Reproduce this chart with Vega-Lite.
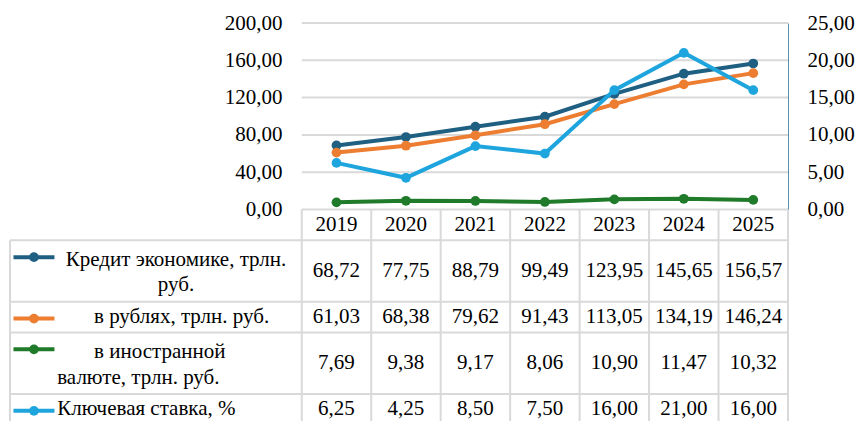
{
  "$schema": "https://vega.github.io/schema/vega-lite/v6.json",
  "autosize": {"type": "none"},
  "width": 778,
  "height": 398,
  "padding": {"left": 10, "top": 23, "right": 73, "bottom": 0},
  "background": "white",
  "config": {
    "locale": {"number": {"decimal": ",", "thousands": "\u00a0", "grouping": [3], "currency": ["", " руб."]}},
    "font": "Times New Roman",
    "view": {"stroke": null},
    "text": {"font": "Times New Roman", "fontSize": 21, "color": "#000000"},
    "axis": {"labelFont": "Times New Roman", "labelFontSize": 21, "labelColor": "#000000", "title": null}
  },
  "datasets": {
    "values": [
      {"series": "Кредит экономике, трлн. руб.", "unit": "трлн. руб.", "year": 2019, "value": 68.72},
      {"series": "Кредит экономике, трлн. руб.", "unit": "трлн. руб.", "year": 2020, "value": 77.75},
      {"series": "Кредит экономике, трлн. руб.", "unit": "трлн. руб.", "year": 2021, "value": 88.79},
      {"series": "Кредит экономике, трлн. руб.", "unit": "трлн. руб.", "year": 2022, "value": 99.49},
      {"series": "Кредит экономике, трлн. руб.", "unit": "трлн. руб.", "year": 2023, "value": 123.95},
      {"series": "Кредит экономике, трлн. руб.", "unit": "трлн. руб.", "year": 2024, "value": 145.65},
      {"series": "Кредит экономике, трлн. руб.", "unit": "трлн. руб.", "year": 2025, "value": 156.57},
      {"series": "в рублях, трлн. руб.", "unit": "трлн. руб.", "year": 2019, "value": 61.03},
      {"series": "в рублях, трлн. руб.", "unit": "трлн. руб.", "year": 2020, "value": 68.38},
      {"series": "в рублях, трлн. руб.", "unit": "трлн. руб.", "year": 2021, "value": 79.62},
      {"series": "в рублях, трлн. руб.", "unit": "трлн. руб.", "year": 2022, "value": 91.43},
      {"series": "в рублях, трлн. руб.", "unit": "трлн. руб.", "year": 2023, "value": 113.05},
      {"series": "в рублях, трлн. руб.", "unit": "трлн. руб.", "year": 2024, "value": 134.19},
      {"series": "в рублях, трлн. руб.", "unit": "трлн. руб.", "year": 2025, "value": 146.24},
      {"series": "в иностранной валюте, трлн. руб.", "unit": "трлн. руб.", "year": 2019, "value": 7.69},
      {"series": "в иностранной валюте, трлн. руб.", "unit": "трлн. руб.", "year": 2020, "value": 9.38},
      {"series": "в иностранной валюте, трлн. руб.", "unit": "трлн. руб.", "year": 2021, "value": 9.17},
      {"series": "в иностранной валюте, трлн. руб.", "unit": "трлн. руб.", "year": 2022, "value": 8.06},
      {"series": "в иностранной валюте, трлн. руб.", "unit": "трлн. руб.", "year": 2023, "value": 10.90},
      {"series": "в иностранной валюте, трлн. руб.", "unit": "трлн. руб.", "year": 2024, "value": 11.47},
      {"series": "в иностранной валюте, трлн. руб.", "unit": "трлн. руб.", "year": 2025, "value": 10.32},
      {"series": "Ключевая ставка, %", "unit": "%", "year": 2019, "value": 6.25},
      {"series": "Ключевая ставка, %", "unit": "%", "year": 2020, "value": 4.25},
      {"series": "Ключевая ставка, %", "unit": "%", "year": 2021, "value": 8.50},
      {"series": "Ключевая ставка, %", "unit": "%", "year": 2022, "value": 7.50},
      {"series": "Ключевая ставка, %", "unit": "%", "year": 2023, "value": 16.00},
      {"series": "Ключевая ставка, %", "unit": "%", "year": 2024, "value": 21.00},
      {"series": "Ключевая ставка, %", "unit": "%", "year": 2025, "value": 16.00}
    ],
    "rows": [
      {"series": "Кредит экономике, трлн. руб.", "label": "Кредит экономике, трлн.\nруб.", "row": "1", "lines": 2},
      {"series": "в рублях, трлн. руб.", "label": "\u200b\u00a0\u00a0\u00a0\u00a0\u00a0\u00a0\u00a0в рублях, трлн. руб.", "row": "2", "lines": 1},
      {"series": "в иностранной валюте, трлн. руб.", "label": "\u200b\u00a0\u00a0\u00a0\u00a0\u00a0\u00a0\u00a0в иностранной\nвалюте, трлн. руб.", "row": "3", "lines": 2},
      {"series": "Ключевая ставка, %", "label": "Ключевая ставка, %", "row": "4", "lines": 1}
    ],
    "edges": [
      {"edge": 2018.5}, {"edge": 2019.5}, {"edge": 2020.5}, {"edge": 2021.5},
      {"edge": 2022.5}, {"edge": 2023.5}, {"edge": 2024.5}, {"edge": 2025.5}
    ],
    "ticks": [
      {"tick": 0}, {"tick": 40}, {"tick": 80}, {"tick": 120}, {"tick": 160}, {"tick": 200}
    ]
  },
  "resolve": {"scale": {"y": "independent"}},
  "layer": [
    {
      "layer": [
        {
          "data": {"name": "ticks"},
          "mark": {"type": "rule", "color": "#d9d9d9", "strokeWidth": 2},
          "encoding": {
            "y": {"field": "tick", "type": "quantitative",
                  "scale": {"domain": [0, 200], "range": [186.5, 0], "nice": false, "zero": true},
                  "axis": {"orient": "left", "values": [0, 40, 80, 120, 160, 200], "format": ".2f", "domain": false, "ticks": false, "tickSize": 0, "grid": false, "labelPadding": 20, "offset": -292}},
            "x": {"datum": 2018.5, "type": "quantitative", "scale": {"domain": [2014.3, 2025.5], "nice": false, "zero": false}, "axis": null},
            "x2": {"datum": 2025.5}
          }
        },
        {
          "data": {"name": "values"},
          "transform": [{"filter": "datum.unit === 'трлн. руб.'"}],
          "mark": {"type": "line", "strokeWidth": 4, "point": {"filled": true, "size": 95}},
          "encoding": {
            "x": {"field": "year", "type": "quantitative", "scale": {"domain": [2014.3, 2025.5], "nice": false, "zero": false}, "axis": null},
            "y": {"field": "value", "type": "quantitative",
                  "scale": {"domain": [0, 200], "range": [186.5, 0], "nice": false, "zero": true},
                  "axis": {"orient": "left", "values": [0, 40, 80, 120, 160, 200], "format": ".2f", "domain": false, "ticks": false, "tickSize": 0, "grid": false, "labelPadding": 20, "offset": -292}},
            "color": {"field": "series", "type": "nominal",
                      "scale": {"domain": ["Кредит экономике, трлн. руб.", "в рублях, трлн. руб.", "в иностранной валюте, трлн. руб.", "Ключевая ставка, %"], "range": ["#1f5f82", "#ed7d31", "#1f7a2a", "#1ea5de"]},
                      "legend": null},
            "order": {"field": "year"}
          }
        }
      ]
    },
    {
      "data": {"name": "values"},
      "transform": [{"filter": "datum.unit === '%'"}],
      "mark": {"type": "line", "strokeWidth": 4, "point": {"filled": true, "size": 95}},
      "encoding": {
        "x": {"field": "year", "type": "quantitative", "scale": {"domain": [2014.3, 2025.5], "nice": false, "zero": false}, "axis": null},
        "y": {"field": "value", "type": "quantitative",
              "scale": {"domain": [0, 25], "range": [186.5, 0], "nice": false, "zero": true},
              "axis": {"orient": "right", "values": [0, 5, 10, 15, 20, 25], "format": ".2f", "domain": true, "domainColor": "#5a8fa8", "domainWidth": 1, "ticks": false, "tickSize": 0, "grid": false, "labelPadding": 19}},
        "color": {"field": "series", "type": "nominal", "legend": null},
        "order": {"field": "year"}
      }
    },
    {
      "layer": [
        {
          "data": {"name": "edges"},
          "mark": {"type": "rule", "color": "#d9d9d9", "strokeWidth": 2},
          "encoding": {
            "x": {"field": "edge", "type": "quantitative", "scale": {"domain": [2014.3, 2025.5], "nice": false, "zero": false}, "axis": null},
            "y": {"datum": "h", "type": "nominal", "bandPosition": 0,
                  "scale": {"type": "band", "domain": ["h", "1", "1+", "2", "3", "3+", "4", "end"], "range": [186.5, 432.4], "paddingInner": 0, "paddingOuter": 0}, "axis": null},
            "y2": {"datum": "end"}
          }
        },
        {
          "data": {"name": "rows"},
          "mark": {"type": "rule", "color": "#d9d9d9", "strokeWidth": 2},
          "encoding": {
            "x": {"datum": 2014.3, "type": "quantitative", "scale": {"domain": [2014.3, 2025.5], "nice": false, "zero": false}, "axis": null},
            "x2": {"datum": 2025.5},
            "y": {"field": "row", "type": "nominal", "bandPosition": 0,
                  "scale": {"type": "band", "domain": ["h", "1", "1+", "2", "3", "3+", "4", "end"], "range": [186.5, 432.4], "paddingInner": 0, "paddingOuter": 0}, "axis": null}
          }
        },
        {
          "data": {"name": "rows"},
          "transform": [{"filter": "datum.row === '1'"}],
          "mark": {"type": "rule", "color": "#d9d9d9", "strokeWidth": 2},
          "encoding": {
            "x": {"datum": 2014.3, "type": "quantitative", "scale": {"domain": [2014.3, 2025.5], "nice": false, "zero": false}, "axis": null},
            "y": {"field": "row", "type": "nominal", "bandPosition": 0,
                  "scale": {"type": "band", "domain": ["h", "1", "1+", "2", "3", "3+", "4", "end"], "range": [186.5, 432.4], "paddingInner": 0, "paddingOuter": 0}, "axis": null},
            "y2": {"datum": "end"}
          }
        },
        {
          "data": {"name": "values"},
          "transform": [{"filter": "datum.series === 'Ключевая ставка, %'"}],
          "mark": {"type": "text", "align": "center", "baseline": "middle"},
          "encoding": {
            "x": {"field": "year", "type": "quantitative", "scale": {"domain": [2014.3, 2025.5], "nice": false, "zero": false}, "axis": null},
            "y": {"datum": "h", "type": "nominal", "bandPosition": 0.5,
                  "scale": {"type": "band", "domain": ["h", "1", "1+", "2", "3", "3+", "4", "end"], "range": [186.5, 432.4], "paddingInner": 0, "paddingOuter": 0}, "axis": null},
            "text": {"field": "year", "type": "quantitative", "format": "d"}
          }
        },
        {
          "data": {"name": "values"},
          "transform": [
            {"lookup": "series", "from": {"data": {"name": "rows"}, "key": "series", "fields": ["row", "lines"]}},
            {"filter": "datum.lines === 1"}
          ],
          "mark": {"type": "text", "align": "center", "baseline": "middle"},
          "encoding": {
            "x": {"field": "year", "type": "quantitative", "scale": {"domain": [2014.3, 2025.5], "nice": false, "zero": false}, "axis": null},
            "y": {"field": "row", "type": "nominal", "bandPosition": 0.5,
                  "scale": {"type": "band", "domain": ["h", "1", "1+", "2", "3", "3+", "4", "end"], "range": [186.5, 432.4], "paddingInner": 0, "paddingOuter": 0}, "axis": null},
            "text": {"field": "value", "type": "quantitative", "format": ".2f"}
          }
        },
        {
          "data": {"name": "values"},
          "transform": [
            {"lookup": "series", "from": {"data": {"name": "rows"}, "key": "series", "fields": ["row", "lines"]}},
            {"filter": "datum.lines === 2"}
          ],
          "mark": {"type": "text", "align": "center", "baseline": "middle"},
          "encoding": {
            "x": {"field": "year", "type": "quantitative", "scale": {"domain": [2014.3, 2025.5], "nice": false, "zero": false}, "axis": null},
            "y": {"field": "row", "type": "nominal", "bandPosition": 1,
                  "scale": {"type": "band", "domain": ["h", "1", "1+", "2", "3", "3+", "4", "end"], "range": [186.5, 432.4], "paddingInner": 0, "paddingOuter": 0}, "axis": null},
            "text": {"field": "value", "type": "quantitative", "format": ".2f"}
          }
        },
        {
          "data": {"name": "rows"},
          "transform": [{"filter": "datum.row === '1'"}],
          "mark": {"type": "text", "align": "center", "baseline": "middle", "lineBreak": "\n", "lineHeight": 25},
          "encoding": {
            "x": {"datum": 2016.69, "type": "quantitative", "scale": {"domain": [2014.3, 2025.5], "nice": false, "zero": false}, "axis": null},
            "y": {"field": "row", "type": "nominal", "bandPosition": 0.63,
                  "scale": {"type": "band", "domain": ["h", "1", "1+", "2", "3", "3+", "4", "end"], "range": [186.5, 432.4], "paddingInner": 0, "paddingOuter": 0}, "axis": null},
            "text": {"field": "label", "type": "nominal"}
          }
        },
        {
          "data": {"name": "rows"},
          "transform": [{"filter": "datum.row === '3'"}],
          "mark": {"type": "text", "align": "left", "baseline": "middle", "lineBreak": "\n", "lineHeight": 26},
          "encoding": {
            "x": {"datum": 2014.98, "type": "quantitative", "scale": {"domain": [2014.3, 2025.5], "nice": false, "zero": false}, "axis": null},
            "y": {"field": "row", "type": "nominal", "bandPosition": 0.63,
                  "scale": {"type": "band", "domain": ["h", "1", "1+", "2", "3", "3+", "4", "end"], "range": [186.5, 432.4], "paddingInner": 0, "paddingOuter": 0}, "axis": null},
            "text": {"field": "label", "type": "nominal"}
          }
        },
        {
          "data": {"name": "rows"},
          "transform": [{"filter": "datum.lines === 1"}],
          "mark": {"type": "text", "align": "left", "baseline": "middle"},
          "encoding": {
            "x": {"datum": 2014.98, "type": "quantitative", "scale": {"domain": [2014.3, 2025.5], "nice": false, "zero": false}, "axis": null},
            "y": {"field": "row", "type": "nominal", "bandPosition": 0.5,
                  "scale": {"type": "band", "domain": ["h", "1", "1+", "2", "3", "3+", "4", "end"], "range": [186.5, 432.4], "paddingInner": 0, "paddingOuter": 0}, "axis": null},
            "text": {"field": "label", "type": "nominal"}
          }
        },
        {
          "data": {"name": "rows"},
          "mark": {"type": "rule", "strokeWidth": 4},
          "encoding": {
            "x": {"datum": 2014.35, "type": "quantitative", "scale": {"domain": [2014.3, 2025.5], "nice": false, "zero": false}, "axis": null},
            "x2": {"datum": 2014.94},
            "y": {"field": "row", "type": "nominal", "bandPosition": 0.55,
                  "scale": {"type": "band", "domain": ["h", "1", "1+", "2", "3", "3+", "4", "end"], "range": [186.5, 432.4], "paddingInner": 0, "paddingOuter": 0}, "axis": null},
            "color": {"field": "series", "type": "nominal", "legend": null}
          }
        },
        {
          "data": {"name": "rows"},
          "mark": {"type": "point", "filled": true, "size": 95, "opacity": 1},
          "encoding": {
            "x": {"datum": 2014.645, "type": "quantitative", "scale": {"domain": [2014.3, 2025.5], "nice": false, "zero": false}, "axis": null},
            "y": {"field": "row", "type": "nominal", "bandPosition": 0.55,
                  "scale": {"type": "band", "domain": ["h", "1", "1+", "2", "3", "3+", "4", "end"], "range": [186.5, 432.4], "paddingInner": 0, "paddingOuter": 0}, "axis": null},
            "color": {"field": "series", "type": "nominal", "legend": null}
          }
        }
      ]
    }
  ]
}
